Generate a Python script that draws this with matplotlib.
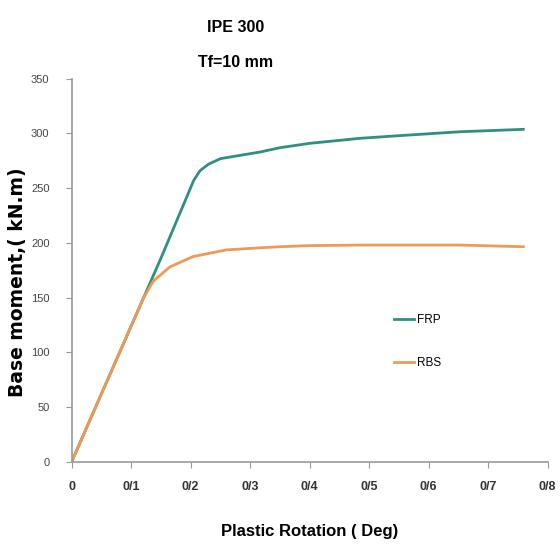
import matplotlib
matplotlib.use("Agg")
import matplotlib.pyplot as plt

# data
frp_rot = [0.0, 0.05, 0.10, 0.15, 0.205, 0.2157, 0.23, 0.25, 0.316, 0.35, 0.40, 0.485, 0.55, 0.653, 0.759]
frp_mom = [0.0, 62, 124, 186, 257, 266, 272, 277, 283, 287, 291, 295.6, 298, 301.6, 303.8]

rbs_rot = [0.0, 0.05, 0.10, 0.12, 0.137, 0.165, 0.204, 0.26, 0.316, 0.35, 0.40, 0.485, 0.55, 0.653, 0.759]
rbs_mom = [0.0, 62, 124, 149, 165, 178, 187.5, 193.6, 195.5, 196.5, 197.5, 198, 198, 198, 196.5]

x_ticks = [0, 0.1, 0.2, 0.3, 0.4, 0.5, 0.6, 0.7, 0.8]
x_labels = ["0", "0/1", "0/2", "0/3", "0/4", "0/5", "0/6", "0/7", "0/8"]
y_ticks = [0, 50, 100, 150, 200, 250, 300, 350]

arial = ["Liberation Sans", "DejaVu Sans"]

fig = plt.figure(figsize=(5.6, 5.46), dpi=100)
ax = fig.add_axes([0.128, 0.1544, 0.850, 0.7013])

ax.plot(frp_rot, frp_mom, color="#2f8f80", lw=2.0, label="FRP")
ax.plot(rbs_rot, rbs_mom, color="#ec9a55", lw=2.0, label="RBS")

ax.set_xlim(0, 0.8)
ax.set_ylim(0, 350)
ax.set_xticks(x_ticks)
ax.set_xticklabels(x_labels, family=arial, fontsize=9, fontweight="bold", color="#333333")
ax.set_yticks(y_ticks)
ax.set_yticklabels([str(v) for v in y_ticks], family=arial, fontsize=8, color="#444444")
ax.tick_params(axis="x", color="#999999", length=4, pad=10)
ax.tick_params(axis="y", color="#999999", length=4, pad=12)

for s in ["top", "right"]:
    ax.spines[s].set_visible(False)
for s in ["left", "bottom"]:
    ax.spines[s].set_color("#999999")
    ax.spines[s].set_linewidth(1.2)

ax.set_ylabel("Base moment,( kN.m)", fontsize=13.5, fontweight="bold")
ax.yaxis.set_label_coords(-0.094, 0.47)
ax.set_xlabel("Plastic Rotation ( Deg)", family=arial, fontsize=12, fontweight="bold", labelpad=22)

ax.legend(loc="center left", bbox_to_anchor=(0.655, 0.314), frameon=False,
          handlelength=1.7, handletextpad=0.2, labelspacing=2.6,
          prop={"family": arial, "size": 8.5})

fig.text(0.42, 0.95, "IPE 300", ha="center", va="center", family=arial, fontsize=11.5, fontweight="bold")
fig.text(0.42, 0.886, "Tf=10 mm", ha="center", va="center", family=arial, fontsize=11.5, fontweight="bold")

fig.savefig("out.png", dpi=100)
